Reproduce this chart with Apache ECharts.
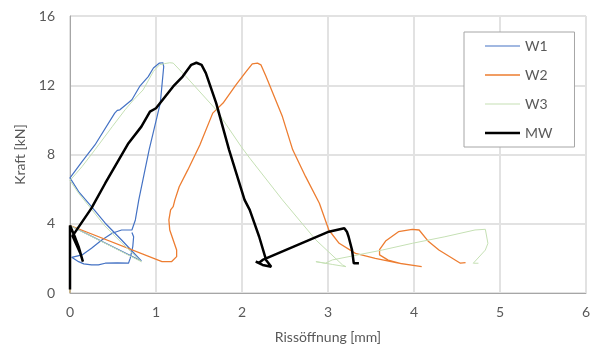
<!DOCTYPE html>
<html>
<head>
<meta charset="utf-8">
<script src="https://cdn.jsdelivr.net/npm/echarts@6/dist/echarts.min.js"></script>
<style>
  html, body { margin: 0; padding: 0; background: #fff; }
  #chart { width: 593px; height: 353px; }
</style>
</head>
<body>
<div id="chart"></div>
<script>
// Kraft-Rissöffnungs-Kurven: [Rissöffnung mm, Kraft kN]
const w1 = [
  [0, 0], [0, 3.9], [0.83, 1.85], [0.60, 3.06], [0.41, 4.03], [0.25, 4.99], [0.10, 5.86], [0, 6.65],
  [0.14, 7.59], [0.29, 8.55], [0.52, 10.39], [0.55, 10.55], [0.58, 10.58], [0.72, 11.16], [0.81, 11.93],
  [0.91, 12.5], [0.97, 13.0], [1.04, 13.28], [1.08, 13.3], [1.09, 13.08], [1.05, 10.97], [0.92, 8.27],
  [0.80, 5.38], [0.76, 4.22], [0.72, 3.64], [0.60, 3.64], [0.49, 3.45], [0.37, 3.06], [0.25, 2.58],
  [0.14, 2.2], [0.02, 2.06], [0.10, 1.81], [0.16, 1.68], [0.25, 1.62], [0.33, 1.62], [0.41, 1.72],
  [0.55, 1.74], [0.68, 1.72], [0.70, 2.0], [0.73, 2.68], [0.74, 3.25], [0.72, 3.5]
];
const w2 = [
  [0, 0], [0, 3.9], [1.07, 1.81], [1.18, 1.81], [1.24, 2.1], [1.24, 2.48], [1.20, 3.06], [1.16, 3.64],
  [1.15, 4.22], [1.17, 4.8], [1.20, 4.99], [1.22, 5.38], [1.27, 6.14], [1.37, 7.11], [1.51, 8.55],
  [1.66, 10.39], [1.78, 10.97], [1.93, 12.02], [2.05, 12.8], [2.12, 13.24], [2.18, 13.28], [2.22, 13.18],
  [2.28, 12.5], [2.47, 10.19], [2.59, 8.27], [2.74, 6.72], [2.90, 5.18], [3.01, 3.64], [3.13, 2.87],
  [3.32, 2.29], [3.55, 2.0], [3.82, 1.72], [4.09, 1.52], [3.85, 1.7], [3.70, 1.9], [3.60, 2.2],
  [3.60, 2.5], [3.67, 3.0], [3.82, 3.54], [3.98, 3.68], [4.06, 3.64], [4.17, 2.97], [4.29, 2.48],
  [4.54, 1.72], [4.60, 1.75]
];
const w3 = [
  [0, 0], [0, 3.9], [0.83, 1.81], [0.60, 2.9], [0.40, 3.9], [0.24, 4.9], [0.10, 5.76], [0, 6.5],
  [0.14, 7.3], [0.29, 8.27], [0.49, 9.6], [0.64, 10.58], [0.74, 11.16], [0.85, 11.73], [0.97, 12.8],
  [1.04, 13.18], [1.10, 13.25], [1.16, 13.3], [1.20, 13.28], [1.35, 12.5], [1.70, 10.58], [1.99, 8.46],
  [2.09, 7.79], [2.47, 5.38], [2.86, 3.06], [3.17, 1.62], [3.21, 1.52], [3.05, 1.65], [2.86, 1.81],
  [2.97, 1.72], [3.05, 1.91], [3.63, 2.48], [3.98, 2.87], [4.36, 3.25], [4.71, 3.64], [4.83, 3.68],
  [4.86, 2.87], [4.83, 2.48], [4.69, 1.72], [4.75, 1.72]
];
const mw = [
  [0, 0.2], [0, 3.9], [0.06, 3.2], [0.10, 2.68], [0.15, 1.81], [0.17, 1.75], [0.12, 2.3], [0.03, 3.3],
  [0.25, 4.9], [0.41, 6.34], [0.68, 8.65], [0.83, 9.61], [0.93, 10.48], [1.0, 10.67], [1.20, 11.93],
  [1.31, 12.5], [1.41, 13.18], [1.47, 13.3], [1.53, 13.18], [1.58, 12.7], [1.70, 10.97], [1.85, 8.27],
  [2.03, 5.38], [2.09, 4.8], [2.20, 3.25], [2.28, 1.91], [2.34, 1.52], [2.24, 1.62], [2.16, 1.81],
  [2.20, 1.75], [2.24, 1.91], [3.01, 3.54], [3.19, 3.74], [3.22, 3.54], [3.24, 3.25], [3.28, 2.48],
  [3.30, 1.72], [3.36, 1.72]
];

const seriesNames = ['W1', 'W2', 'W3', 'MW'];
const seriesData = [w1, w2, w3, mw];
const seriesColors = ['#4472C4', '#ED7D31', '#C5E0B4', '#000000'];
const seriesWidths = [1.2, 1.3, 1, 2.5];

const textColor = '#595959';
const fontFamily = 'Lato, "Open Sans", sans-serif';

// Legend key: a horizontal stroke of the series' width, centred in a 35x14 box
// (the two tiny corner squares fix the icon's bounding box so the stroke is not stretched).
function strokeIcon(w) {
  const a = (7 - w / 2).toFixed(2), b = (7 + w / 2).toFixed(2);
  return 'path://M0,' + a + 'H35V' + b + 'H0Z M0,0H0.01V0.01H0Z M34.99,13.99H35V14H34.99Z';
}

const chart = echarts.init(document.getElementById('chart'), null, { renderer: 'canvas' });

chart.setOption({
  animation: false,
  backgroundColor: '#fff',
  textStyle: { fontFamily: fontFamily },
  grid: {
    left: 70, right: 5, top: 16, bottom: 60,
    show: true, borderColor: '#A6A6A6', borderWidth: 1, backgroundColor: 'transparent'
  },
  legend: {
    orient: 'vertical',
    left: 464, top: 32,
    padding: [7, 22, 7, 21],
    itemWidth: 35, itemHeight: 14, itemGap: 15,
    borderColor: '#A6A6A6', borderWidth: 1,
    backgroundColor: '#fff',
    textStyle: { color: textColor, fontSize: 14, fontFamily: fontFamily },
    data: seriesNames.map((name, i) => ({
      name: name,
      icon: strokeIcon(seriesWidths[i]),
      itemStyle: { color: seriesColors[i], borderWidth: 0 }
    }))
  },
  xAxis: {
    type: 'value', min: 0, max: 6, interval: 1,
    name: 'Rissöffnung [mm]', nameLocation: 'middle', nameGap: 37,
    nameTextStyle: { color: textColor, fontSize: 14, fontFamily: fontFamily },
    axisLine: { show: true, lineStyle: { color: '#A6A6A6', width: 1 } },
    axisTick: { show: false },
    axisLabel: { color: textColor, fontSize: 14, margin: 12, fontFamily: fontFamily },
    splitLine: { show: true, lineStyle: { color: '#E2E2E2', width: 2 } }
  },
  yAxis: {
    type: 'value', min: 0, max: 16, interval: 4,
    name: 'Kraft [kN]', nameLocation: 'middle', nameGap: 43,
    nameTextStyle: { color: textColor, fontSize: 14, fontFamily: fontFamily },
    axisLine: { show: true, lineStyle: { color: '#A6A6A6', width: 1 } },
    axisTick: { show: false },
    axisLabel: { color: textColor, fontSize: 14, margin: 15, fontFamily: fontFamily },
    splitLine: { show: true, lineStyle: { color: '#E2E2E2', width: 2 } }
  },
  series: seriesNames.map((name, i) => ({
    name: name,
    type: 'line',
    data: seriesData[i],
    symbol: 'none',
    smooth: false,
    color: seriesColors[i],
    lineStyle: { color: seriesColors[i], width: seriesWidths[i] },
    z: 2 + i
  }))
});
</script>
</body>
</html>
